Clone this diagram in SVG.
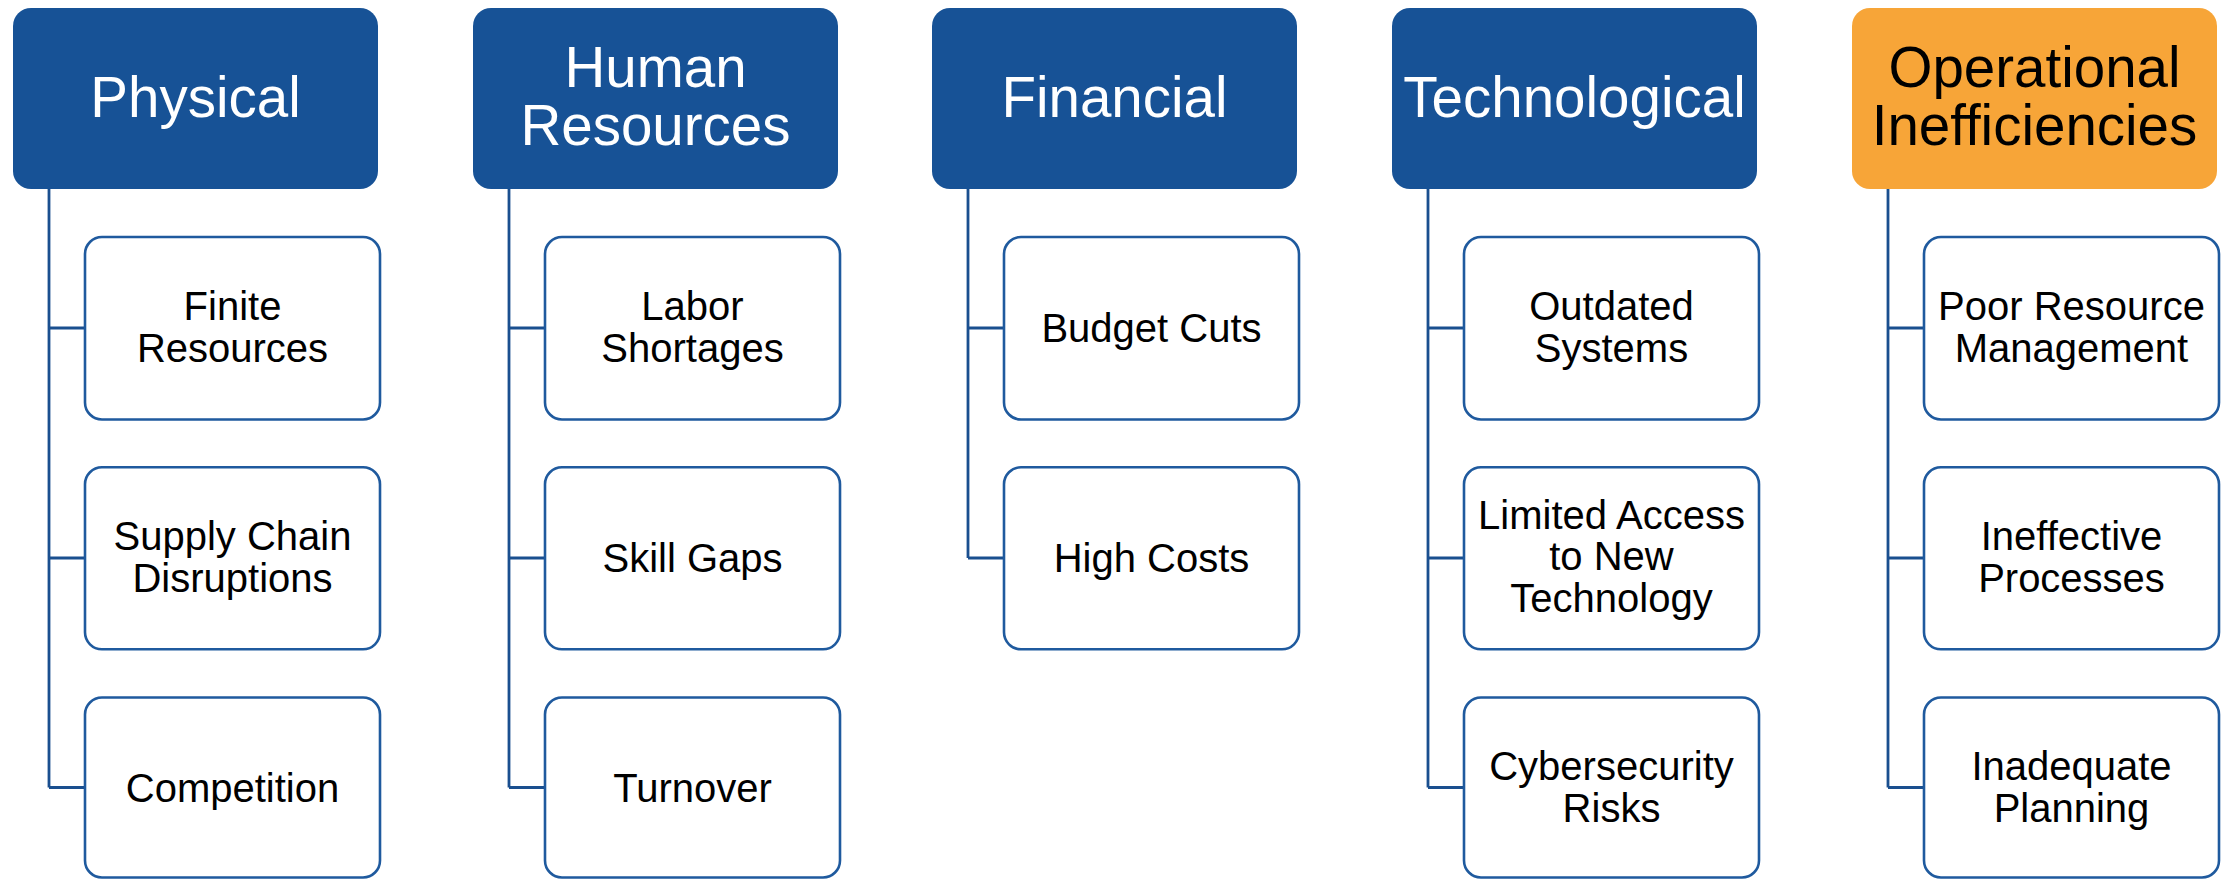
<svg xmlns="http://www.w3.org/2000/svg" width="2231" height="879" viewBox="0 0 2231 879">
<style>
.hd{fill:#175296}
.hd.alt{fill:#F7A538}
.ch{fill:#fff;stroke:#1F5A9E;stroke-width:2.6}
.ln{fill:none;stroke:#1A4F8F;stroke-width:2.8}
.ht{font-family:"Liberation Sans",Arial,sans-serif;font-size:56.5px;fill:#fff;text-anchor:middle}
.ht.dark{fill:#000}
.ct{font-family:"Liberation Sans",Arial,sans-serif;font-size:40px;fill:#000;text-anchor:middle}
</style>
<rect width="2231" height="879" fill="#fff"/>
<g id="connectors">
<path class="ln" d="M49,189 V787.5 M49,328 H85 M49,558 H85 M49,787.5 H85"/>
<path class="ln" d="M509,189 V787.5 M509,328 H545 M509,558 H545 M509,787.5 H545"/>
<path class="ln" d="M968,189 V558 M968,328 H1004 M968,558 H1004"/>
<path class="ln" d="M1428,189 V787.5 M1428,328 H1464 M1428,558 H1464 M1428,787.5 H1464"/>
<path class="ln" d="M1888,189 V787.5 M1888,328 H1924 M1888,558 H1924 M1888,787.5 H1924"/>
</g>
<g id="physical"><rect class="hd" x="13" y="8" width="365" height="181" rx="18"/><text class="ht" x="195.5" y="117">Physical</text></g>
<g id="human-resources"><rect class="hd" x="473" y="8" width="365" height="181" rx="18"/><text class="ht" x="655.5" y="87">Human</text><text class="ht" x="655.5" y="145">Resources</text></g>
<g id="financial"><rect class="hd" x="932" y="8" width="365" height="181" rx="18"/><text class="ht" x="1114.5" y="117">Financial</text></g>
<g id="technological"><rect class="hd" x="1392" y="8" width="365" height="181" rx="18"/><text class="ht" x="1574.5" y="117">Technological</text></g>
<g id="operational"><rect class="hd alt" x="1852" y="8" width="365" height="181" rx="18"/><text class="ht dark" x="2034.5" y="87">Operational</text><text class="ht dark" x="2034.5" y="145">Inefficiencies</text></g>

<g id="finite-resources"><rect class="ch" x="85" y="237" width="295" height="182.5" rx="17"/><text class="ct" x="232.5" y="319.5">Finite</text><text class="ct" x="232.5" y="361.5">Resources</text></g>
<g id="supply-chain"><rect class="ch" x="85" y="467.3" width="295" height="182" rx="17"/><text class="ct" x="232.5" y="550">Supply Chain</text><text class="ct" x="232.5" y="592">Disruptions</text></g>
<g id="competition"><rect class="ch" x="85" y="697.5" width="295" height="180" rx="17"/><text class="ct" x="232.5" y="802">Competition</text></g>

<g id="labor-shortages"><rect class="ch" x="545" y="237" width="295" height="182.5" rx="17"/><text class="ct" x="692.5" y="319.5">Labor</text><text class="ct" x="692.5" y="361.5">Shortages</text></g>
<g id="skill-gaps"><rect class="ch" x="545" y="467.3" width="295" height="182" rx="17"/><text class="ct" x="692.5" y="572">Skill Gaps</text></g>
<g id="turnover"><rect class="ch" x="545" y="697.5" width="295" height="180" rx="17"/><text class="ct" x="692.5" y="802">Turnover</text></g>

<g id="budget-cuts"><rect class="ch" x="1004" y="237" width="295" height="182.5" rx="17"/><text class="ct" x="1151.5" y="341.5">Budget Cuts</text></g>
<g id="high-costs"><rect class="ch" x="1004" y="467.3" width="295" height="182" rx="17"/><text class="ct" x="1151.5" y="572">High Costs</text></g>

<g id="outdated-systems"><rect class="ch" x="1464" y="237" width="295" height="182.5" rx="17"/><text class="ct" x="1611.5" y="319.5">Outdated</text><text class="ct" x="1611.5" y="361.5">Systems</text></g>
<g id="limited-access"><rect class="ch" x="1464" y="467.3" width="295" height="182" rx="17"/><text class="ct" x="1611.5" y="528.5">Limited Access</text><text class="ct" x="1611.5" y="570">to New</text><text class="ct" x="1611.5" y="611.5">Technology</text></g>
<g id="cybersecurity"><rect class="ch" x="1464" y="697.5" width="295" height="180" rx="17"/><text class="ct" x="1611.5" y="780">Cybersecurity</text><text class="ct" x="1611.5" y="822">Risks</text></g>

<g id="poor-resource"><rect class="ch" x="1924" y="237" width="295" height="182.5" rx="17"/><text class="ct" x="2071.5" y="319.5">Poor Resource</text><text class="ct" x="2071.5" y="361.5">Management</text></g>
<g id="ineffective-processes"><rect class="ch" x="1924" y="467.3" width="295" height="182" rx="17"/><text class="ct" x="2071.5" y="550">Ineffective</text><text class="ct" x="2071.5" y="592">Processes</text></g>
<g id="inadequate-planning"><rect class="ch" x="1924" y="697.5" width="295" height="180" rx="17"/><text class="ct" x="2071.5" y="780">Inadequate</text><text class="ct" x="2071.5" y="822">Planning</text></g>
</svg>
